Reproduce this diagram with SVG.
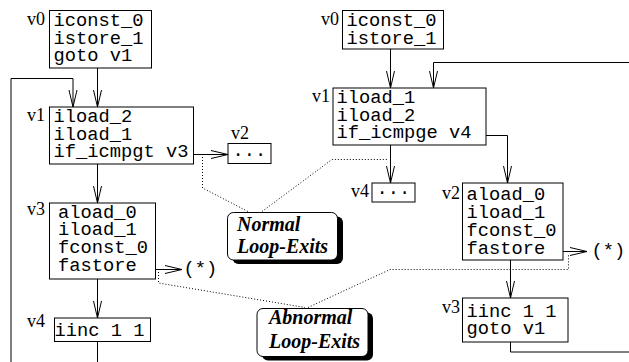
<svg xmlns="http://www.w3.org/2000/svg" width="629" height="362" viewBox="0 0 629 362">
<style>
.box{fill:#fff;stroke:#000;stroke-width:1}
.code{font-family:"Liberation Mono","Courier New",monospace;font-size:18.75px;fill:#000}
.lbl{font-family:"Liberation Serif","Times New Roman",serif;font-size:18px;fill:#000}
.note{font-family:"Liberation Serif","Times New Roman",serif;font-size:20px;font-weight:bold;font-style:italic;fill:#000}
.edge{fill:none;stroke:#000;stroke-width:1}
.dot{fill:none;stroke:#000;stroke-width:1;stroke-dasharray:1 2}
.shadow{fill:#000}
</style>
<defs>
<marker id="arr" markerUnits="userSpaceOnUse" markerWidth="20" markerHeight="10" viewBox="0 0 20 10" refX="18" refY="5" orient="auto">
<path d="M1,1 L18,5 L1,9" fill="none" stroke="#000" stroke-width="1"/>
</marker>
</defs>
<rect width="629" height="362" fill="#fff"/>

<g id="connectors">
<path class="edge" d="M97.5,68 V107" marker-end="url(#arr)"/>
<path class="edge" d="M97.5,341 V380 H11 V78.5 H73 V107" marker-end="url(#arr)"/>
<path class="edge" d="M193,154.5 H228" marker-end="url(#arr)"/>
<path class="edge" d="M97.5,164 V203" marker-end="url(#arr)"/>
<path class="edge" d="M155,269.5 H182" marker-end="url(#arr)"/>
<path class="edge" d="M97.5,279 V318" marker-end="url(#arr)"/>
<path class="edge" d="M390.5,49 V88" marker-end="url(#arr)"/>
<path class="edge" d="M510.5,342 V352 H640 V62.5 H433.5 V88" marker-end="url(#arr)"/>
<path class="edge" d="M390.5,145 V183" marker-end="url(#arr)"/>
<path class="edge" d="M486,135.5 H507.5 V183" marker-end="url(#arr)"/>
<path class="edge" d="M563,251.5 H587" marker-end="url(#arr)"/>
<path class="edge" d="M510.5,260 V298" marker-end="url(#arr)"/>
<path class="dot" d="M202.5,157 V188 L248,211.5"/>
<path class="dot" d="M262,211.5 L332,159.5 H388"/>
<path class="dot" d="M158.5,272 V283 L305,307.5"/>
<path class="dot" d="M308,307.5 L390,269.5 H568.5 V255"/>
</g>

<g id="L-v0">
<rect class="box" x="49.5" y="10.5" width="102" height="57.5"/>
<text class="lbl" x="27" y="25">v0</text>
<text class="code" x="53.5" y="26">iconst_0</text>
<text class="code" x="53.5" y="43.5">istore_1</text>
<text class="code" x="53.5" y="61">goto v1</text>
</g>
<g id="L-v1">
<rect class="box" x="49.5" y="107" width="144" height="57"/>
<text class="lbl" x="27" y="121">v1</text>
<text class="code" x="53.5" y="122">iload_2</text>
<text class="code" x="53.5" y="139.5">iload_1</text>
<text class="code" x="53.5" y="157">if_icmpgt v3</text>
</g>
<g id="L-v2">
<rect class="box" x="228" y="143.5" width="43" height="20"/>
<text class="lbl" x="231" y="139">v2</text>
<text class="code" x="249.5" y="155.5" text-anchor="middle">...</text>
</g>
<g id="L-v3">
<rect class="box" x="49.5" y="203" width="106" height="76"/>
<text class="lbl" x="27" y="215">v3</text>
<text class="code" x="58" y="217.5">aload_0</text>
<text class="code" x="58" y="235.3">iload_1</text>
<text class="code" x="58" y="253">fconst_0</text>
<text class="code" x="58" y="270.8">fastore</text>
<text class="code" x="183.5" y="274">(*)</text>
</g>
<g id="L-v4">
<rect class="box" x="54.5" y="318" width="96" height="23.5"/>
<text class="lbl" x="27" y="327">v4</text>
<text class="code" x="54.5" y="336">iinc 1 1</text>
</g>

<g id="R-v0">
<rect class="box" x="342.5" y="10.5" width="101" height="38.5"/>
<text class="lbl" x="339" y="25" text-anchor="end">v0</text>
<text class="code" x="346.5" y="26">iconst_0</text>
<text class="code" x="346.5" y="43.5">istore_1</text>
</g>
<g id="R-v1">
<rect class="box" x="333" y="88" width="153" height="57"/>
<text class="lbl" x="330" y="102" text-anchor="end">v1</text>
<text class="code" x="336.5" y="103">iload_1</text>
<text class="code" x="336.5" y="120.5">iload_2</text>
<text class="code" x="336.5" y="138.3">if_icmpge v4</text>
</g>
<g id="R-v4">
<rect class="box" x="372" y="183" width="43" height="19"/>
<text class="lbl" x="369" y="197" text-anchor="end">v4</text>
<text class="code" x="393.5" y="194" text-anchor="middle">...</text>
</g>
<g id="R-v2">
<rect class="box" x="462.5" y="183" width="100.5" height="77"/>
<text class="lbl" x="460" y="199" text-anchor="end">v2</text>
<text class="code" x="466.5" y="200">aload_0</text>
<text class="code" x="466.5" y="218">iload_1</text>
<text class="code" x="466.5" y="236">fconst_0</text>
<text class="code" x="466.5" y="254">fastore</text>
<text class="code" x="591.5" y="256">(*)</text>
</g>
<g id="R-v3">
<rect class="box" x="462.5" y="298" width="105.5" height="44"/>
<text class="lbl" x="460" y="313" text-anchor="end">v3</text>
<text class="code" x="466.5" y="316.5">iinc 1 1</text>
<text class="code" x="466.5" y="334">goto v1</text>
</g>

<g id="note-normal">
<rect class="shadow" x="232.5" y="216.5" width="110.5" height="47.5" rx="6"/>
<rect class="box" x="227.5" y="212.5" width="110" height="47.5" rx="6"/>
<text class="note" x="237" y="231">Normal</text>
<text class="note" x="237" y="253">Loop-Exits</text>
</g>
<g id="note-abnormal">
<rect class="shadow" x="262" y="312.5" width="111" height="48" rx="6"/>
<rect class="box" x="257" y="308.5" width="111" height="48" rx="6"/>
<text class="note" x="269" y="324">Abnormal</text>
<text class="note" x="269" y="348">Loop-Exits</text>
</g>
</svg>
